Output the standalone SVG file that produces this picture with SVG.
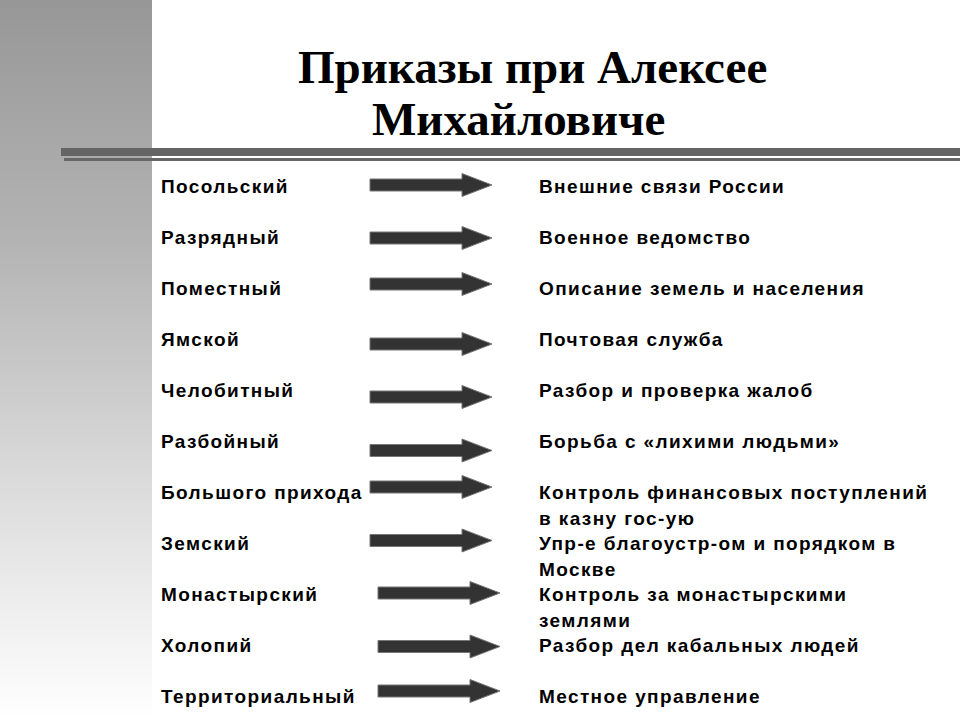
<svg xmlns="http://www.w3.org/2000/svg" width="960" height="720" viewBox="0 0 960 720">
<defs>
<linearGradient id="bg" x1="0" y1="0" x2="0" y2="1">
<stop offset="0" stop-color="#979797"/>
<stop offset="0.34" stop-color="#b4b4b4"/>
<stop offset="0.68" stop-color="#dcdcdc"/>
<stop offset="1" stop-color="#ffffff"/>
</linearGradient>
<path id="arr" d="M0,-6 H92 V-11.5 L122,0 L92,11.5 V6 H0 Z"/>
<style>
.t{font-family:"Liberation Sans",Arial,sans-serif;font-weight:bold;font-size:19px;letter-spacing:1.4px;fill:#000}
.h{font-family:"Liberation Serif","Times New Roman",serif;font-weight:bold;font-size:47px;fill:#000}
.a{fill:#333;stroke:#777;stroke-width:1}
</style>
</defs>
<rect width="960" height="720" fill="#fff"/>
<rect x="0" y="0" width="152" height="720" fill="url(#bg)"/>
<rect x="61" y="148" width="899" height="8" fill="#646464"/>
<rect x="64" y="158" width="896" height="3" fill="#666"/>
<g id="title">
<text class="h" x="298" y="83">Приказы при Алексее</text>
<text class="h" x="372" y="135">Михайловиче</text>
</g>
<g id="connectors">
<use href="#arr" class="a" x="370" y="185"/>
<use href="#arr" class="a" x="370" y="238"/>
<use href="#arr" class="a" x="370" y="284"/>
<use href="#arr" class="a" x="370" y="344"/>
<use href="#arr" class="a" x="370" y="397"/>
<use href="#arr" class="a" x="370" y="450.5"/>
<use href="#arr" class="a" x="370" y="487"/>
<use href="#arr" class="a" x="370" y="540.5"/>
<use href="#arr" class="a" x="378" y="593"/>
<use href="#arr" class="a" x="378" y="646.5"/>
<use href="#arr" class="a" x="378" y="691"/>
</g>
<g id="n1"><text class="t" x="161" y="192.5">Посольский</text><text class="t" x="539" y="192.5">Внешние связи России</text></g>
<g id="n2"><text class="t" x="161" y="243.5">Разрядный</text><text class="t" x="539" y="243.5">Военное ведомство</text></g>
<g id="n3"><text class="t" x="161" y="294.5">Поместный</text><text class="t" x="539" y="294.5">Описание земель и населения</text></g>
<g id="n4"><text class="t" x="161" y="345.5">Ямской</text><text class="t" x="539" y="345.5">Почтовая служба</text></g>
<g id="n5"><text class="t" x="161" y="396.5">Челобитный</text><text class="t" x="539" y="396.5">Разбор и проверка жалоб</text></g>
<g id="n6"><text class="t" x="161" y="447.5">Разбойный</text><text class="t" x="539" y="447.5">Борьба с «лихими людьми»</text></g>
<g id="n7"><text class="t" x="161" y="498.5">Большого прихода</text><text class="t" x="539" y="498.5">Контроль финансовых поступлений</text><text class="t" x="539" y="524.5">в казну гос-ую</text></g>
<g id="n8"><text class="t" x="161" y="549.5">Земский</text><text class="t" x="539" y="549.5">Упр-е благоустр-ом и порядком в</text><text class="t" x="539" y="575.5">Москве</text></g>
<g id="n9"><text class="t" x="161" y="600.5">Монастырский</text><text class="t" x="539" y="600.5">Контроль за монастырскими</text><text class="t" x="539" y="626.5">землями</text></g>
<g id="n10"><text class="t" x="161" y="651.5">Холопий</text><text class="t" x="539" y="651.5">Разбор дел кабальных людей</text></g>
<g id="n11"><text class="t" x="161" y="702.5">Территориальный</text><text class="t" x="539" y="702.5">Местное управление</text></g>
</svg>
